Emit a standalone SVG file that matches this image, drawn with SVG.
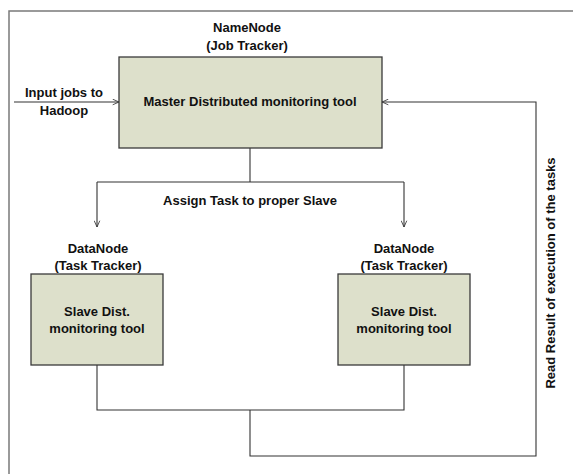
<svg xmlns="http://www.w3.org/2000/svg" width="573" height="474" viewBox="0 0 573 474">
<style>
.bg{fill:#ffffff}
.frame{fill:none;stroke:#7a7a7a;stroke-width:1.5}
.box{fill:#dde0cb;stroke:#3a3a3a;stroke-width:1.3}
.conn{fill:none;stroke:#333333;stroke-width:1.1}
.t{font-family:"Liberation Sans",Arial,sans-serif;font-weight:bold;font-size:13px;fill:#111111;text-anchor:middle}
</style>
<defs>
<marker id="arr" viewBox="0 0 10 10" refX="10" refY="5" markerWidth="7" markerHeight="7" markerUnits="userSpaceOnUse" orient="auto">
<path d="M1,1 L10,5 L1,9" fill="none" stroke="#333333" stroke-width="1.2"/>
</marker>
</defs>
<rect class="bg" x="0" y="0" width="573" height="474"/>
<path class="frame" d="M9,480 L9,11 L580,11"/>
<g id="connectors">
<line class="conn" x1="14" y1="102" x2="119" y2="102" marker-end="url(#arr)"/>
<path class="conn" d="M250,148 V182 M97,182 H404 M97,182 V227" marker-end="url(#arr)"/>
<path class="conn" d="M404,182 V227" marker-end="url(#arr)"/>
<path class="conn" d="M97,365 V410 H404 V365 M250,410 V456 H536 V102 H382" marker-end="url(#arr)"/>
<text class="t" x="64" y="97">Input jobs to</text>
<text class="t" x="64" y="115">Hadoop</text>
<text class="t" x="250" y="205">Assign Task to proper Slave</text>
<text class="t" transform="translate(555,273) rotate(-90)">Read Result of execution of the tasks</text>
</g>
<g id="master">
<text class="t" x="247" y="32">NameNode</text>
<text class="t" x="247" y="50">(Job Tracker)</text>
<rect class="box" x="119" y="57" width="263" height="91"/>
<text class="t" x="250" y="106">Master Distributed monitoring tool</text>
</g>
<g id="slave-left">
<text class="t" x="98" y="253">DataNode</text>
<text class="t" x="98" y="270">(Task Tracker)</text>
<rect class="box" x="31" y="274" width="132" height="91"/>
<text class="t" x="97" y="316">Slave Dist.</text>
<text class="t" x="97" y="333">monitoring tool</text>
</g>
<g id="slave-right">
<text class="t" x="404" y="253">DataNode</text>
<text class="t" x="404" y="270">(Task Tracker)</text>
<rect class="box" x="338" y="274" width="132" height="91"/>
<text class="t" x="404" y="316">Slave Dist.</text>
<text class="t" x="404" y="333">monitoring tool</text>
</g>
</svg>
